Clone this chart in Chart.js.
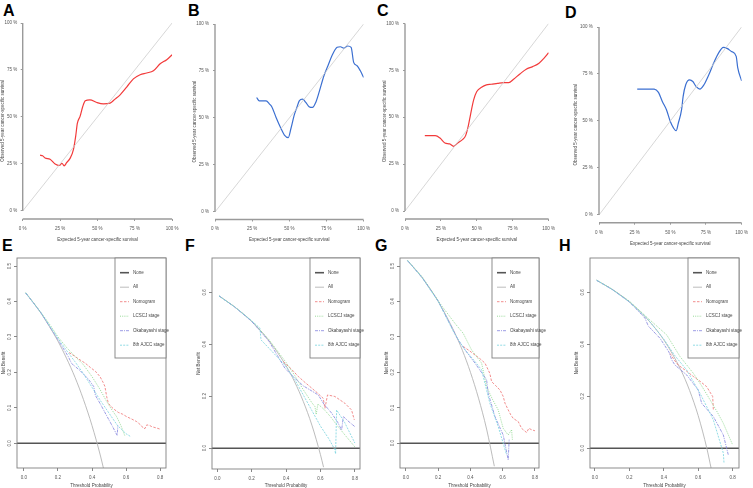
<!DOCTYPE html>
<html>
<head>
<meta charset="utf-8">
<script src="https://cdn.jsdelivr.net/npm/chart.js@4.4.0/dist/chart.umd.min.js"></script>
<style>
  body { margin: 0; background: #fff; width: 753px; height: 488px; position: relative; overflow: hidden; }
  canvas { position: absolute; }
  .tag { position: absolute; font: bold 16px/16px "Liberation Sans", Arial, sans-serif; color: #000; }
</style>
</head>
<body>
<div class="tag" style="left:3px;top:3px">A</div>
<div class="tag" style="left:188px;top:3px">B</div>
<div class="tag" style="left:377px;top:3px">C</div>
<div class="tag" style="left:565px;top:5px">D</div>
<div class="tag" style="left:2px;top:238px">E</div>
<div class="tag" style="left:185px;top:238px">F</div>
<div class="tag" style="left:375px;top:238px">G</div>
<div class="tag" style="left:559px;top:238px">H</div>

<canvas id="cA" width="185" height="248" style="left:0;top:0"></canvas>
<canvas id="cB" width="190" height="248" style="left:185px;top:0"></canvas>
<canvas id="cC" width="185" height="248" style="left:375px;top:0"></canvas>
<canvas id="cD" width="193" height="248" style="left:560px;top:0"></canvas>
<canvas id="cE" width="185" height="240" style="left:0;top:248px"></canvas>
<canvas id="cF" width="190" height="240" style="left:185px;top:248px"></canvas>
<canvas id="cG" width="185" height="240" style="left:375px;top:248px"></canvas>
<canvas id="cH" width="193" height="240" style="left:560px;top:248px"></canvas>

<script>
// ---- calibration panels (A-D), values in % ----
const calibTicks = [0, 25, 50, 75, 100];
const calibTickLabels = ["0 %", "25 %", "50 %", "75 %", "100 %"];
const diagonal = [[0, 0], [100, 100]];

const A_curve = [[11.6,29.7],[13.3,29.4],[15,28.2],[18.3,27.5],[21.7,25],[24.6,24.2],[26.3,25.4],[27.7,24],[29.5,25.8],[31.7,28],[33.9,32.5],[35.5,40],[36.6,46.7],[38.4,50.3],[40.2,55.6],[41.9,58.6],[45,59.1],[49.6,57.7],[54,57],[58.5,57.4],[61.8,59.5],[65.2,61.8],[69.6,65.9],[74.1,70.3],[78.6,72.5],[83,73.4],[87.5,74.6],[92,78.3],[96.4,80.5],[100,83.1]];
const B_curve = [[28,60.9],[29.8,59.1],[34.4,59.1],[36.7,57.4],[38.2,56],[41.1,50.3],[44.4,44.4],[46.7,40.9],[49.3,39.6],[51.1,44.4],[53.3,51.5],[55.1,55.6],[56.7,59.1],[58.9,60],[61.1,58.3],[63.3,56],[65.6,55.6],[67.8,58.3],[70,63.6],[73.3,72.5],[76,77.8],[78.9,83.5],[82.2,87.6],[84.4,87.9],[86.7,87.2],[89.3,88.3],[91.6,87.6],[93.3,79.6],[95.6,77.8],[97.8,75.1],[100,71.6]];
const C_curve = [[13.8,40.2],[21.1,40.2],[24.4,38.9],[27.8,36.3],[31.1,35.8],[33.8,34.5],[36.7,36.3],[40,38.1],[42.2,40.2],[44,45.1],[45.6,51.3],[47.8,59.3],[50,63.7],[53.3,66],[56.7,67.3],[60,67.6],[64.4,68.1],[68.9,68.5],[72.2,68.5],[75.6,70.3],[80,73.1],[84.4,75.6],[88.9,77],[93.3,78.8],[96.7,81.4],[100,84.4]];
const D_curve = [[26.8,67],[38.7,67],[41.7,65.2],[44.4,60.4],[47.3,56],[50,49.7],[52.3,46.2],[54.1,44.8],[55.6,48.8],[57.9,56],[59,63.1],[60.8,69.3],[63.5,71.9],[65.8,71],[68,68.4],[70.7,67],[73.6,69.3],[77,74.6],[80.4,80.8],[83.8,86.1],[87.2,89.2],[90.1,88.5],[92.8,87],[96.2,84.4],[97.3,78.2],[100,71.4]];

// ---- decision curves (E-H), threshold vs net benefit ----
const dcaLabels = ["None", "All", "Nomogram", "LCSCJ stage", "Okabayashi stage", "8th AJCC stage"];
const xTicksDca = [0, 0.2, 0.4, 0.6, 0.8];
const noneLine = [[-0.1, 0], [0.9, 0]];

const E_all = [[0.01,0.424],[0.05,0.40],[0.1,0.367],[0.15,0.329],[0.2,0.288],[0.25,0.24],[0.3,0.186],[0.35,0.123],[0.4,0.05],[0.45,-0.036],[0.467,-0.07]];
const E_nomogram = [[0.265,0.256],[0.3,0.245],[0.33,0.235],[0.36,0.226],[0.39,0.214],[0.42,0.203],[0.447,0.188],[0.465,0.172],[0.476,0.16],[0.486,0.132],[0.496,0.113],[0.515,0.102],[0.535,0.094],[0.555,0.087],[0.58,0.082],[0.604,0.075],[0.635,0.068],[0.663,0.061],[0.69,0.05],[0.702,0.042],[0.712,0.042],[0.722,0.052],[0.74,0.05],[0.751,0.047],[0.78,0.043],[0.8,0.04]];
const E_lcscj = [[0.01,0.425],[0.1,0.369],[0.153,0.334],[0.2,0.3],[0.251,0.27],[0.3,0.245],[0.349,0.222],[0.4,0.188],[0.447,0.152],[0.486,0.118],[0.52,0.092],[0.545,0.075],[0.57,0.05],[0.594,0.02]];
const E_okabayashi = [[0.01,0.424],[0.1,0.368],[0.2,0.292],[0.26,0.245],[0.28,0.225],[0.33,0.205],[0.38,0.18],[0.41,0.16],[0.42,0.135],[0.45,0.11],[0.486,0.078],[0.52,0.048],[0.548,0.022],[0.552,0.05]];
const E_ajcc = [[0.01,0.424],[0.1,0.368],[0.2,0.296],[0.25,0.262],[0.3,0.23],[0.35,0.196],[0.4,0.158],[0.45,0.12],[0.5,0.085],[0.55,0.05],[0.6,0.027],[0.627,0.019]];

const F_all = [[0.01,0.586],[0.1,0.544],[0.2,0.488],[0.3,0.414],[0.4,0.317],[0.45,0.255],[0.5,0.18],[0.55,0.089],[0.6,-0.025],[0.618,-0.073]];
const F_nomogram = [[0.384,0.333],[0.43,0.305],[0.471,0.276],[0.505,0.256],[0.539,0.237],[0.58,0.214],[0.616,0.192],[0.626,0.154],[0.63,0.167],[0.641,0.205],[0.684,0.199],[0.742,0.173],[0.781,0.147],[0.797,0.109]];
const F_lcscj = [[0.01,0.586],[0.1,0.545],[0.2,0.49],[0.3,0.418],[0.4,0.33],[0.45,0.28],[0.5,0.225],[0.55,0.175],[0.568,0.16],[0.575,0.13],[0.585,0.17],[0.62,0.15],[0.66,0.12],[0.7,0.085],[0.75,0.045],[0.8,0.005]];
const F_okabayashi = [[0.01,0.586],[0.1,0.544],[0.2,0.488],[0.3,0.412],[0.393,0.308],[0.45,0.27],[0.5,0.24],[0.55,0.22],[0.587,0.205],[0.62,0.17],[0.665,0.135],[0.7,0.1],[0.723,0.07],[0.733,0.122],[0.76,0.105],[0.8,0.083]];
const F_ajcc = [[0.01,0.586],[0.1,0.544],[0.2,0.49],[0.248,0.462],[0.254,0.417],[0.3,0.385],[0.393,0.32],[0.45,0.265],[0.5,0.205],[0.55,0.145],[0.6,0.085],[0.65,0.035],[0.684,-0.006],[0.688,-0.022],[0.694,0.147],[0.74,0.1],[0.8,0.02]];

const G_all = [[0.01,0.515],[0.1,0.467],[0.2,0.4],[0.3,0.314],[0.35,0.262],[0.4,0.2],[0.45,0.127],[0.5,0.04],[0.548,-0.065]];
const G_nomogram = [[0.355,0.273],[0.39,0.262],[0.428,0.249],[0.46,0.238],[0.49,0.226],[0.52,0.197],[0.531,0.174],[0.555,0.163],[0.583,0.15],[0.603,0.132],[0.614,0.113],[0.634,0.094],[0.65,0.08],[0.665,0.07],[0.696,0.061],[0.717,0.042],[0.748,0.03],[0.762,0.042],[0.779,0.038],[0.8,0.035]];
const G_lcscj = [[0.01,0.516],[0.1,0.47],[0.221,0.388],[0.304,0.338],[0.355,0.31],[0.407,0.263],[0.469,0.226],[0.5,0.16],[0.535,0.125],[0.572,0.094],[0.603,0.042],[0.634,0.023],[0.655,0.038],[0.66,0.01]];
const G_okabayashi = [[0.01,0.515],[0.1,0.468],[0.2,0.401],[0.324,0.291],[0.38,0.255],[0.428,0.226],[0.5,0.179],[0.51,0.141],[0.552,0.075],[0.603,0.023],[0.634,-0.047],[0.64,0.01]];
const G_ajcc = [[0.01,0.515],[0.1,0.467],[0.2,0.4],[0.3,0.31],[0.366,0.263],[0.42,0.235],[0.469,0.207],[0.5,0.15],[0.52,0.113],[0.572,0.047],[0.603,0],[0.624,-0.033]];

const H_all = [[0.01,0.646],[0.1,0.611],[0.2,0.563],[0.3,0.5],[0.4,0.417],[0.5,0.3],[0.55,0.222],[0.6,0.125],[0.65,0],[0.675,-0.077]];
const H_nomogram = [[0.436,0.365],[0.46,0.34],[0.484,0.32],[0.53,0.298],[0.572,0.276],[0.61,0.258],[0.649,0.237],[0.684,0.199],[0.688,0.147]];
const H_lcscj = [[0.01,0.647],[0.1,0.612],[0.2,0.566],[0.3,0.505],[0.417,0.436],[0.494,0.353],[0.572,0.288],[0.62,0.24],[0.669,0.186],[0.71,0.14],[0.746,0.096],[0.8,0.013]];
const H_okabayashi = [[0.01,0.646],[0.1,0.611],[0.2,0.563],[0.27,0.515],[0.291,0.5],[0.31,0.47],[0.378,0.423],[0.43,0.37],[0.446,0.34],[0.465,0.32],[0.533,0.282],[0.6,0.224],[0.62,0.173],[0.688,0.122],[0.746,0.051],[0.775,-0.026]];
const H_ajcc = [[0.01,0.646],[0.1,0.611],[0.2,0.563],[0.3,0.502],[0.4,0.42],[0.46,0.36],[0.533,0.301],[0.61,0.212],[0.688,0.109],[0.746,-0.019],[0.75,-0.058]];

Chart.defaults.font.family = '"Liberation Sans", Arial, sans-serif';
const FS = 4.5;
const toXY = arr => arr.map(p => ({ x: p[0], y: p[1] }));

// R-style detached axes: y runs 0..100 %, x sits a little below 0 %
const calibAxis = {
  id: "calibAxis",
  afterDatasetsDraw(chart) {
    const ctx = chart.ctx;
    const xs = chart.scales.x, ys = chart.scales.y;
    const a = chart.chartArea;
    ctx.save();
    ctx.strokeStyle = "#9a9a9a";
    ctx.lineWidth = 1.4;
    ctx.beginPath();
    ctx.moveTo(a.left, ys.getPixelForValue(0));
    ctx.lineTo(a.left, ys.getPixelForValue(100));
    ctx.stroke();
    ctx.beginPath();
    ctx.moveTo(xs.getPixelForValue(0), a.bottom);
    ctx.lineTo(xs.getPixelForValue(100), a.bottom);
    ctx.stroke();
    ctx.restore();
  }
};

function calibChart(id, curve, color, g) {
  new Chart(document.getElementById(id), {
    type: "line",
    data: {
      datasets: [
        { data: toXY(diagonal), borderColor: "#cdcdcd", borderWidth: 0.8, pointRadius: 0 },
        { data: toXY(curve), borderColor: color, borderWidth: 1.2, pointRadius: 0, cubicInterpolationMode: "monotone" }
      ]
    },
    options: {
      responsive: false, animation: false, devicePixelRatio: 1,
      layout: { padding: { top: g.top, right: g.right, left: 0, bottom: 0 } },
      plugins: { legend: { display: false }, tooltip: { enabled: false } },
      scales: {
        x: {
          type: "linear", min: 0, max: 100,
          afterBuildTicks: s => { s.ticks = calibTicks.map(v => ({ value: v })); },
          afterFit: s => { s.height = g.xh; },
          ticks: { callback: v => calibTickLabels[calibTicks.indexOf(v)], font: { size: FS }, color: "#555", padding: g.xtp, maxRotation: 0, autoSkip: false },
          grid: { drawOnChartArea: false, tickLength: 2, color: "#9a9a9a" },
          border: { display: false },
          title: { display: true, text: "Expected 5-year cancer-specific survival", font: { size: FS }, color: "#444", padding: { top: 0, bottom: g.xtt } }
        },
        y: {
          type: "linear", min: g.ymin, max: 100,
          afterBuildTicks: s => { s.ticks = calibTicks.map(v => ({ value: v })); },
          afterFit: s => { s.width = g.yw; },
          ticks: { callback: v => calibTickLabels[calibTicks.indexOf(v)], font: { size: FS }, color: "#555", padding: g.ytp, autoSkip: false },
          grid: { drawOnChartArea: false, tickLength: 2, color: "#9a9a9a" },
          border: { display: false },
          title: { display: true, text: "Observed 5-year cancer-specific survival", font: { size: FS }, color: "#444", padding: { top: g.ytt, bottom: 0 } }
        }
      }
    },
    plugins: [calibAxis]
  });
}

calibChart("cA", A_curve, "#f23b3b", { top: 23, right: 12.9, yw: 22.7, xh: 29, ymin: -4.26, xtp: 5, xtt: 5.3, ytp: 3.4, ytt: 0 });
calibChart("cB", B_curve, "#3b6fd1", { top: 24, right: 10, yw: 30, xh: 28.5, ymin: -4, xtp: 5, xtt: 5.3, ytp: 4, ytt: 6.6 });
calibChart("cC", C_curve, "#f23b3b", { top: 23.5, right: 5, yw: 30, xh: 29, ymin: -4.26, xtp: 5, xtt: 5.3, ytp: 4, ytt: 6.6 });
calibChart("cD", D_curve, "#3b6fd1", { top: 27, right: 6, yw: 39, xh: 25.3, ymin: -4.1, xtp: 5, xtt: 1.6, ytp: 4.3, ytt: 13.3 });

// ---- decision curve helpers ----
const dcaStyles = [
  { color: "#555555", width: 1.6, dash: [] },
  { color: "#b4b4b4", width: 0.9, dash: [] },
  { color: "#f07a7a", width: 0.85, dash: [2.5, 1.5] },
  { color: "#86d486", width: 0.85, dash: [1, 1.2] },
  { color: "#8a8ae0", width: 0.85, dash: [3, 1, 1, 1] },
  { color: "#7fd6e0", width: 0.85, dash: [2, 1.2] }
];

const boxAndLabels = {
  id: "boxAndLabels",
  afterDraw(chart, args, opts) {
    const { ctx, scales: { y }, chartArea: a } = chart;
    ctx.save();
    ctx.strokeStyle = "#808080";
    ctx.lineWidth = 0.9;
    ctx.strokeRect(a.left, a.top, a.right - a.left, a.bottom - a.top);
    // rotated y tick labels, R style
    ctx.fillStyle = "#555";
    ctx.font = FS + 'px "Liberation Sans", Arial';
    ctx.textAlign = "center";
    ctx.textBaseline = "middle";
    y.ticks.forEach(t => {
      ctx.save();
      ctx.translate(a.left - 7, y.getPixelForValue(t.value));
      ctx.rotate(-Math.PI / 2);
      ctx.fillText(t.value.toFixed(1), 0, 0);
      ctx.restore();
    });
    // legend box
    const left = opts.left;
    ctx.fillStyle = "#fff";
    ctx.fillRect(left, a.top, a.right - left, 100);
    ctx.strokeRect(left, a.top, a.right - left, 100);
    chart.data.datasets.forEach((ds, i) => {
      const yy = a.top + 14.7 + i * 14.5;
      ctx.strokeStyle = ds.borderColor;
      ctx.lineWidth = ds.borderWidth;
      ctx.setLineDash(ds.borderDash);
      ctx.beginPath();
      ctx.moveTo(left + 5, yy);
      ctx.lineTo(left + 14, yy);
      ctx.stroke();
      ctx.setLineDash([]);
      ctx.fillStyle = "#444";
      ctx.textAlign = "left";
      ctx.fillText(ds.label, left + 18, yy);
    });
    ctx.restore();
  }
};

function dcaChart(id, series, g) {
  new Chart(document.getElementById(id), {
    type: "line",
    data: {
      datasets: series.map((s, i) => ({
        label: dcaLabels[i],
        data: toXY(s),
        borderColor: dcaStyles[i].color,
        borderWidth: dcaStyles[i].width,
        borderDash: dcaStyles[i].dash,
        pointRadius: 0,
        order: 6 - i,
        cubicInterpolationMode: i === 1 ? "monotone" : "default",
        tension: 0
      }))
    },
    options: {
      responsive: false, animation: false, devicePixelRatio: 1,
      layout: { padding: { top: 10, right: g.right, left: 0, bottom: 0 } },
      plugins: { legend: { display: false }, tooltip: { enabled: false }, boxAndLabels: { left: g.legend } },
      scales: {
        x: {
          type: "linear", min: g.xmin, max: g.xmax,
          afterBuildTicks: s => { s.ticks = xTicksDca.map(v => ({ value: v })); },
          afterFit: s => { s.height = g.xh; },
          ticks: { callback: v => v.toFixed(1), font: { size: FS }, color: "#555", padding: 4.3, maxRotation: 0, autoSkip: false },
          grid: { drawOnChartArea: false, tickLength: 3, color: "#888" },
          border: { display: false },
          title: { display: true, text: "Threshold Probability", font: { size: FS }, color: "#444", padding: { top: 0, bottom: 0 } }
        },
        y: {
          type: "linear", min: g.ymin, max: g.ymax,
          afterBuildTicks: s => { s.ticks = g.yticks.map(v => ({ value: v })); },
          afterFit: s => { s.width = g.yw; },
          ticks: { display: false },
          grid: { drawOnChartArea: false, tickLength: 3, color: "#888" },
          border: { display: false },
          title: { display: true, text: "Net Benefit", font: { size: FS }, color: "#444", padding: { top: g.ytt, bottom: 0 } }
        }
      }
    },
    plugins: [boxAndLabels]
  });
}

dcaChart("cE", [noneLine, E_all, E_nomogram, E_lcscj, E_okabayashi, E_ajcc],
  { right: 19, yw: 17, xh: 20, xmin: -0.041, xmax: 0.835, ymin: -0.0697, ymax: 0.5226, yticks: [0, 0.1, 0.2, 0.3, 0.4, 0.5], legend: 115, ytt: 0.8 });
dcaChart("cF", [noneLine, F_all, F_nomogram, F_lcscj, F_okabayashi, F_ajcc],
  { right: 15, yw: 27, xh: 19, xmin: -0.031, xmax: 0.83, ymin: -0.08, ymax: 0.732, yticks: [0, 0.2, 0.4, 0.6], legend: 125, ytt: 10.8 });
dcaChart("cG", [noneLine, G_all, G_nomogram, G_lcscj, G_okabayashi, G_ajcc],
  { right: 21, yw: 25, xh: 20, xmin: -0.037, xmax: 0.825, ymin: -0.07, ymax: 0.5226, yticks: [0, 0.1, 0.2, 0.3, 0.4, 0.5], legend: 117, ytt: 8.8 });
dcaChart("cH", [noneLine, H_all, H_nomogram, H_lcscj, H_okabayashi, H_ajcc],
  { right: 14, yw: 30, xh: 20, xmin: -0.029, xmax: 0.837, ymin: -0.076, ymax: 0.732, yticks: [0, 0.2, 0.4, 0.6], legend: 128, ytt: 13.8 });
</script>
</body>
</html>
